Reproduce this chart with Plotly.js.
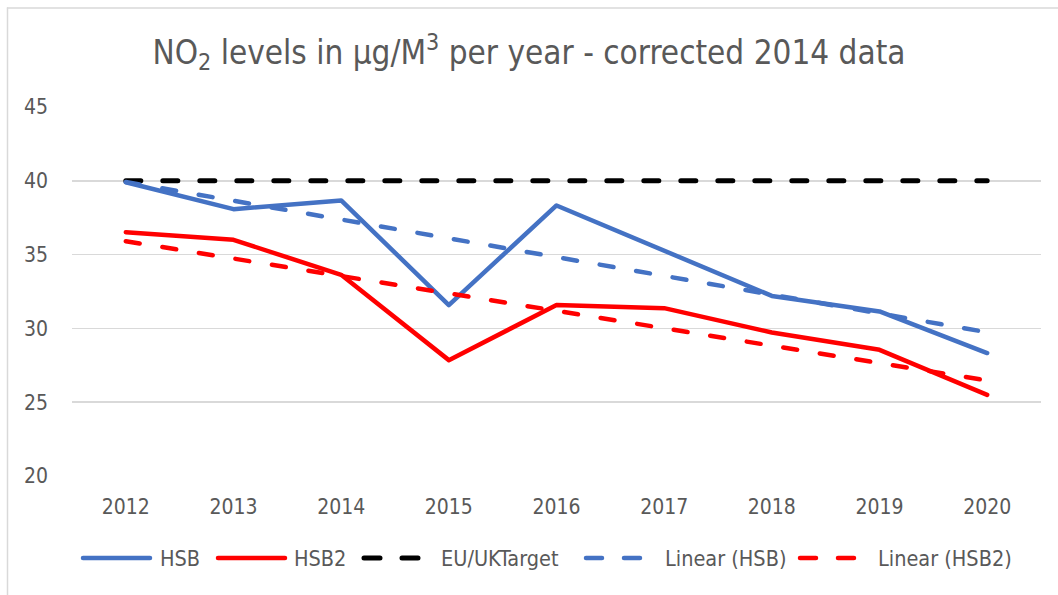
<!DOCTYPE html>
<html>
<head>
<meta charset="utf-8">
<script src="https://cdn.plot.ly/plotly-3.0.1.min.js"></script>
<style>
html,body{margin:0;padding:0;background:#fff;}
#chart{width:1058px;height:595px;}
.js-line, .shapelayer path{stroke-linecap:round;stroke-linejoin:round;}
</style>
</head>
<body>
<div id="chart"></div>
<script>
const years = ['2012','2013','2014','2015','2016','2017','2018','2019','2020'];
const hsb = [39.9, 38.08, 38.67, 31.58, 38.33, 35.24, 32.2, 31.15, 28.33];
const hsb2 = [36.52, 36.0, 33.63, 27.85, 31.58, 31.37, 29.72, 28.55, 25.5];
const target = [40, 40, 40, 40, 40, 40, 40, 40, 40];
const trendYears = ['2012', '2020'];
const trendHSB = [39.92, 29.74];
const trendHSB2 = [35.91, 26.47];
const yTicks = [20, 25, 30, 35, 40, 45];
const seriesNames = ['HSB', 'HSB2', 'EU/UKTarget', 'Linear (HSB)', 'Linear (HSB2)'];

const blue = '#4472C4', red = '#FF0000', grey = '#595959';
const font = '"Liberation Sans Narrow", "DejaVu Sans Condensed", Lato, sans-serif';
const styles = [
  {color: blue, width: 4.5},
  {color: red, width: 4.5},
  {color: '#000000', width: 5, dash: '15px,22px'},
  {color: blue, width: 4.5, dash: '14px,23px'},
  {color: red, width: 4.5, dash: '14px,23px'}
];

const xs = [years, years, years, trendYears, trendYears];
const ys = [hsb, hsb2, target, trendHSB, trendHSB2];
const traces = seriesNames.map((n, i) => ({
  x: xs[i], y: ys[i], name: n, mode: 'lines', line: styles[i], showlegend: false
}));

// legend drawn as shapes + annotations (layout only)
const L = 72, W = 969, B = 476, H = 369;
const px = v => (v - L) / W;
const py = v => (B - v) / H;
const legY = 558;
const legSym = [[81, 152], [216, 287], [362, 420], [584, 642], [798, 856]];
const legText = [158, 292, 439, 663, 876];
const shapes = [
  {type: 'line', xref: 'paper', yref: 'paper', x0: px(7.5), x1: px(1070), y0: py(8), y1: py(8), line: {color: '#d9d9d9', width: 1.5}},
  {type: 'line', xref: 'paper', yref: 'paper', x0: px(7.5), x1: px(7.5), y0: py(8), y1: py(600), line: {color: '#d9d9d9', width: 1.5}}
];
const annotations = [];
seriesNames.forEach((n, i) => {
  const st = styles[i];
  const d = st.dash ? '16px,22px' : 'solid';
  shapes.push({type: 'line', xref: 'paper', yref: 'paper',
    x0: px(legSym[i][0] + 2), x1: px(legSym[i][1] - 2), y0: py(legY), y1: py(legY),
    line: {color: st.color, width: st.width, dash: d}});
  annotations.push({xref: 'paper', yref: 'paper', x: px(legText[i]), y: py(legY),
    xanchor: 'left', yanchor: 'middle', text: n, showarrow: false,
    font: {family: font, size: 21.5, color: grey}});
});

const layout = {
  width: 1058, height: 595,
  margin: {l: L, r: 17, t: 107, b: 119},
  paper_bgcolor: '#ffffff', plot_bgcolor: '#ffffff',
  font: {family: font, color: grey, size: 21},
  title: {
    text: 'NO<sub>2</sub> levels in µg/M<sup>3</sup> per year - corrected 2014 data',
    font: {family: font, size: 33, color: grey},
    x: 0.5, xanchor: 'center', y: 1 - 52/595, yanchor: 'middle', yref: 'container'
  },
  xaxis: {
    type: 'category', categoryorder: 'array', categoryarray: years,
    range: [-0.5, 8.5], showgrid: false, zeroline: false, showline: false,
    ticks: '', ticklabelstandoff: 16, tickfont: {size: 21, color: grey}, fixedrange: true
  },
  yaxis: {
    range: [20, 45], tickvals: yTicks, showgrid: true, gridcolor: '#d9d9d9', gridwidth: 1.5,
    zeroline: false, showline: false, ticks: '', ticklabelstandoff: 23,
    tickfont: {size: 21, color: grey}, fixedrange: true
  },
  showlegend: false,
  shapes: shapes,
  annotations: annotations
};

Plotly.newPlot('chart', traces, layout, {displayModeBar: false, staticPlot: true});
</script>
</body>
</html>
